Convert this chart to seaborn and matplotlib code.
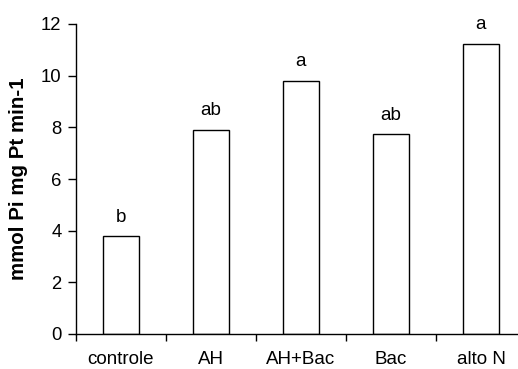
import matplotlib
matplotlib.use("Agg")
import matplotlib.pyplot as plt
import seaborn as sns
import pandas as pd

categories = ["controle", "AH", "AH+Bac", "Bac", "alto N"]
values = [3.78, 7.90, 9.81, 7.73, 11.24]
letters = ["b", "ab", "a", "ab", "a"]
yticks = [0, 2, 4, 6, 8, 10, 12]

sns.set_style("ticks")
plt.rcParams['font.family'] = ['Liberation Sans', 'DejaVu Sans']
plt.rcParams['text.color'] = 'black'
plt.rcParams['axes.labelcolor'] = 'black'
plt.rcParams['xtick.color'] = 'black'
plt.rcParams['ytick.color'] = 'black'

df = pd.DataFrame({"cat": categories, "val": values})

fig = plt.figure(figsize=(5.18, 3.69), dpi=100)
ax = fig.add_axes([76/518, 35/369, 450/518, 310/369])
sns.barplot(data=df, x="cat", y="val", ax=ax, width=0.4, color="white",
            edgecolor="black", linewidth=1.0, saturation=1)

for i, (v, l) in enumerate(zip(values, letters)):
    ax.annotate(l, (i, v), xytext=(0, 10.5), textcoords="offset points",
                ha="center", va="baseline", fontsize=13.5, color="black")

ax.set_xlim(-0.5, 4.5)
ax.set_ylim(0, 12)
ax.set_yticks(yticks)
ax.set_yticklabels([str(t) for t in yticks], fontsize=13.3)
ax.set_xticks(range(len(categories)))
ax.set_xticklabels(categories, fontsize=13.5)
ax.tick_params(axis="x", which="major", length=0, pad=12.5, labelcolor="black")
ax.set_xticks([i - 0.5 for i in range(len(categories) + 1)], minor=True)
ax.tick_params(axis="x", which="minor", length=5, width=1, color="black", direction="out")
ax.tick_params(axis="y", length=6, width=1, color="black", direction="out", pad=4.5,
               labelcolor="black")
ax.set_xlabel("")
ax.set_ylabel("mmol Pi mg Pt min-1", fontsize=14.8, fontweight="bold", labelpad=9,
              color="black")
for s in ["top", "right"]:
    ax.spines[s].set_visible(False)
for s in ["left", "bottom"]:
    ax.spines[s].set_color("black")
    ax.spines[s].set_linewidth(1)

fig.savefig("out.png", dpi=100)
